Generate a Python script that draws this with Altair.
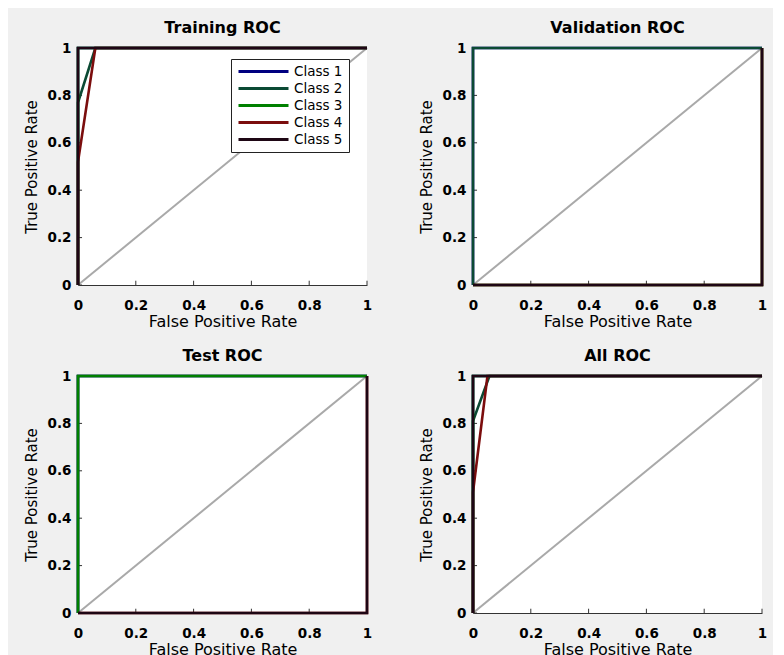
import altair as alt
import pandas as pd

classes = ["Class 1", "Class 2", "Class 3", "Class 4", "Class 5"]
class_colors = ["#000080", "#0b4a34", "#008000", "#7b0d0d", "#1e0614"]
panel_titles = ["Training ROC", "Validation ROC", "Test ROC", "All ROC"]
tick_values = [0, 0.2, 0.4, 0.6, 0.8, 1]
diag_fpr = [0, 1]
diag_tpr = [0, 1]

train_fpr = {"Class 1": [0, 0, 1], "Class 2": [0, 0, 0.06, 1], "Class 3": [0, 0, 1],
             "Class 4": [0, 0, 0.06, 1], "Class 5": [0, 0, 1]}
train_tpr = {"Class 1": [0, 1, 1], "Class 2": [0, 0.77, 1, 1], "Class 3": [0, 1, 1],
             "Class 4": [0, 0.52, 1, 1], "Class 5": [0, 1, 1]}

val_fpr = {"Class 1": [0, 0, 1], "Class 2": [0, 0, 1], "Class 3": [0, 1, 1],
           "Class 4": [0, 1, 1], "Class 5": [0, 1, 1]}
val_tpr = {"Class 1": [0, 1, 1], "Class 2": [0, 1, 1], "Class 3": [0, 0, 1],
           "Class 4": [0, 0, 1], "Class 5": [0, 0, 1]}

test_fpr = {"Class 1": [0, 0, 1], "Class 2": [0, 0, 1], "Class 3": [0, 0, 1],
            "Class 4": [0, 1, 1], "Class 5": [0, 1, 1]}
test_tpr = {"Class 1": [0, 1, 1], "Class 2": [0, 1, 1], "Class 3": [0, 1, 1],
            "Class 4": [0, 0, 1], "Class 5": [0, 0, 1]}

all_fpr = {"Class 1": [0, 0, 1], "Class 2": [0, 0, 0.057, 1], "Class 3": [0, 0, 1],
           "Class 4": [0, 0, 0.05, 1], "Class 5": [0, 0, 1]}
all_tpr = {"Class 1": [0, 1, 1], "Class 2": [0, 0.81, 1, 1], "Class 3": [0, 1, 1],
           "Class 4": [0, 0.51, 1, 1], "Class 5": [0, 1, 1]}

panel_data = {
    "Training ROC": (train_fpr, train_tpr),
    "Validation ROC": (val_fpr, val_tpr),
    "Test ROC": (test_fpr, test_tpr),
    "All ROC": (all_fpr, all_tpr),
}

rows = []
for p, (fd, td) in panel_data.items():
    for c in classes:
        for i, (f, t) in enumerate(zip(fd[c], td[c])):
            rows.append({"panel": p, "cls": c, "step": i, "fpr": f, "tpr": t})
curves = pd.DataFrame(rows)

diag_df = pd.DataFrame({"fpr": diag_fpr, "tpr": diag_tpr})
xtick_df = pd.DataFrame({"fpr": tick_values, "tpr": [0] * len(tick_values),
                         "tpr2": [0.018] * len(tick_values)})
ytick_df = pd.DataFrame({"tpr": tick_values, "fpr": [0] * len(tick_values),
                         "fpr2": [0.014] * len(tick_values)})

FONT = "DejaVu Sans"


def xenc():
    return alt.X("fpr:Q", scale=alt.Scale(domain=[0, 1], nice=False, zero=False),
                 axis=alt.Axis(values=tick_values, format=".1~f", title="False Positive Rate"))


def yenc():
    return alt.Y("tpr:Q", scale=alt.Scale(domain=[0, 1], nice=False, zero=False),
                 axis=alt.Axis(values=tick_values, format=".1~f", title="True Positive Rate"))


def make_panel(title, show_legend):
    diag = alt.Chart(diag_df).mark_line(color="#a9a9a9", strokeWidth=2).encode(x=xenc(), y=yenc())
    xt = alt.Chart(xtick_df).mark_rule(color="#333333", strokeWidth=1).encode(
        x=xenc(), y=yenc(), y2="tpr2:Q")
    yt = alt.Chart(ytick_df).mark_rule(color="#333333", strokeWidth=1).encode(
        x=xenc(), x2="fpr2:Q", y=yenc())
    if show_legend:
        leg = alt.Legend(title=None, orient="none", legendX=153, legendY=11,
                         fillColor="white", strokeColor="#222222", padding=6,
                         labelFont=FONT, labelFontSize=13.5, labelColor="black",
                         symbolType="stroke", symbolSize=2500, symbolStrokeWidth=3,
                         clipHeight=13, labelOffset=4, rowPadding=3)
    else:
        leg = None
    layers = [diag, xt, yt]
    for c in classes:
        layers.append(
            alt.Chart(curves).transform_filter(
                (alt.datum.panel == title) & (alt.datum.cls == c)
            ).mark_line(strokeWidth=2.6).encode(
                x=xenc(), y=yenc(),
                color=alt.Color("cls:N", scale=alt.Scale(domain=classes, range=class_colors), legend=leg),
                order="step:Q",
            )
        )
    return alt.layer(*layers).properties(width=289, height=237, title=title)


chart = alt.concat(
    make_panel("Training ROC", True),
    make_panel("Validation ROC", False),
    make_panel("Test ROC", False),
    make_panel("All ROC", False),
    columns=2,
    spacing={"row": 19, "column": 46},
).resolve_legend(color="independent").properties(
    padding={"left": 16, "top": 12, "right": 5, "bottom": 0},
    background="#f0f0f0",
).configure_view(stroke=None, fill="white").configure_axis(
    grid=False, ticks=False, domainColor="#333333", domainWidth=1,
    labelFont=FONT, labelFontWeight="bold", labelFontSize=13.5, labelColor="black",
    labelFlush=False, labelOverlap=False,
    titleFont=FONT, titleFontWeight="normal", titleColor="black",
).configure_axisX(labelPadding=13, titlePadding=1.5, titleFontSize=16).configure_axisY(
    labelPadding=7, titlePadding=8, titleFontSize=15
).configure_title(font=FONT, fontSize=16, fontWeight="bold", color="black", offset=5, anchor="middle")

chart.save("out.html", embed_options={"renderer": "svg", "actions": False})
